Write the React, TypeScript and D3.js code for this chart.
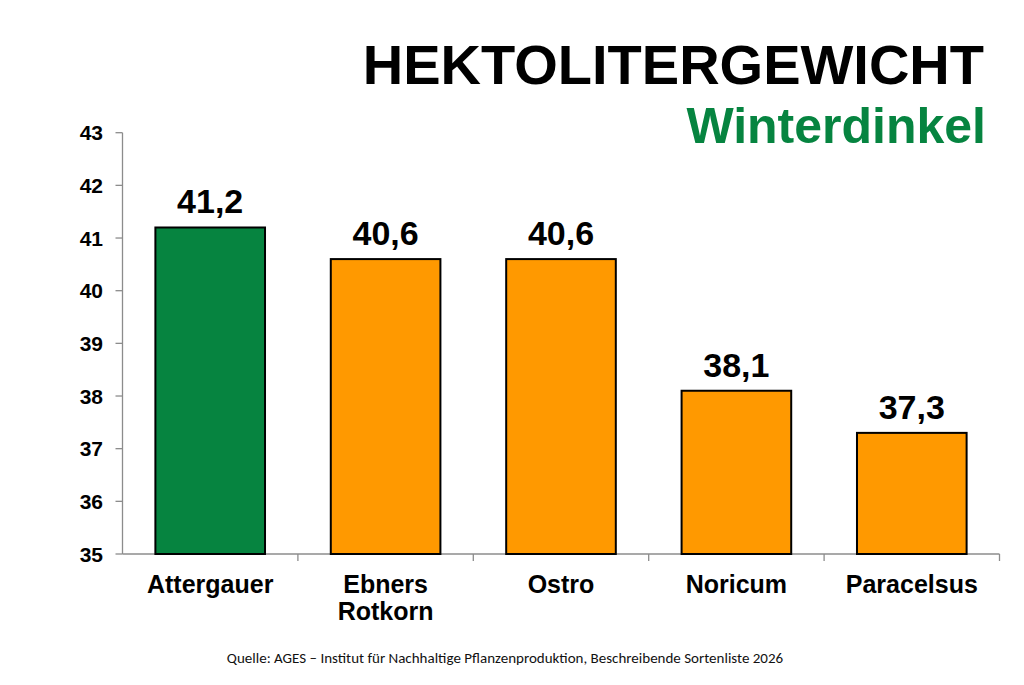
import React from 'react'
import * as d3 from 'd3'

const varieties = ['Attergauer', 'Ebners Rotkorn', 'Ostro', 'Noricum', 'Paracelsus']
const labelLines = [['Attergauer'], ['Ebners', 'Rotkorn'], ['Ostro'], ['Noricum'], ['Paracelsus']]
const weights = [41.2, 40.6, 40.6, 38.1, 37.3]
const highlight = ['Attergauer']
const yTicks = [35, 36, 37, 38, 39, 40, 41, 42, 43]

const W = 1024
const H = 685
const FONT = 'Liberation Sans, Arial, sans-serif'

export default function App() {
  const x = d3.scaleBand<string>().domain(varieties).range([122.5, 999.5]).paddingInner(0).paddingOuter(0)
  const y = d3.scaleLinear().domain([35, 43]).range([554, 132.7])
  const barW = x.bandwidth() * 0.625
  const fmt = (v: number) => v.toFixed(1).replace('.', ',')
  const axisColor = '#8c8c8c'
  const [x0, x1] = x.range()

  return (
    <svg width={W} height={H} style={{ position: 'absolute', left: 0, top: 0, background: '#fff' }}>
      <text x={984} y={84} textAnchor="end" fontFamily={FONT} fontWeight="bold" fontSize={56} fill="#000">
        HEKTOLITERGEWICHT
      </text>
      <text x={986} y={143} textAnchor="end" fontFamily={FONT} fontWeight="bold" fontSize={50} fill="#068440">
        Winterdinkel
      </text>

      {/* y axis */}
      <line x1={x0} x2={x0} y1={y(43)} y2={y(35)} stroke={axisColor} strokeWidth={1.3} />
      {yTicks.map((t) => (
        <g key={t}>
          <line x1={x0 - 7} x2={x0} y1={y(t)} y2={y(t)} stroke={axisColor} strokeWidth={1.3} />
          <text x={103} y={y(t)} dy="0.36em" textAnchor="end" fontFamily={FONT} fontWeight="bold" fontSize={21} fill="#000">
            {t}
          </text>
        </g>
      ))}

      {/* x axis */}
      <line x1={x0} x2={x1} y1={y(35)} y2={y(35)} stroke={axisColor} strokeWidth={1.3} />
      {varieties.map((v) => (
        <line key={v} x1={(x(v) ?? 0) + x.bandwidth()} x2={(x(v) ?? 0) + x.bandwidth()} y1={y(35)} y2={y(35) + 7} stroke={axisColor} strokeWidth={1.3} />
      ))}

      {varieties.map((v, i) => {
        const cx = (x(v) ?? 0) + x.bandwidth() / 2
        const val = weights[i]
        return (
          <g key={v}>
            <rect
              x={cx - barW / 2}
              y={y(val)}
              width={barW}
              height={y(35) - y(val)}
              fill={highlight.includes(v) ? '#068440' : '#FF9900'}
              stroke="#000"
              strokeWidth={2}
            />
            <text x={cx} y={y(val) - 14} textAnchor="middle" fontFamily={FONT} fontWeight="bold" fontSize={34} fill="#000">
              {fmt(val)}
            </text>
            {labelLines[i].map((line, j) => (
              <text key={line} x={cx} y={593 + j * 27} textAnchor="middle" fontFamily={FONT} fontWeight="bold" fontSize={25} fill="#000">
                {line}
              </text>
            ))}
          </g>
        )
      })}

      <text x={505} y={663} textAnchor="middle" fontFamily="Carlito, 'Open Sans', sans-serif" fontSize={15} fill="#111">
        Quelle: AGES – Institut für Nachhaltige Pflanzenproduktion, Beschreibende Sortenliste 2026
      </text>
    </svg>
  )
}
